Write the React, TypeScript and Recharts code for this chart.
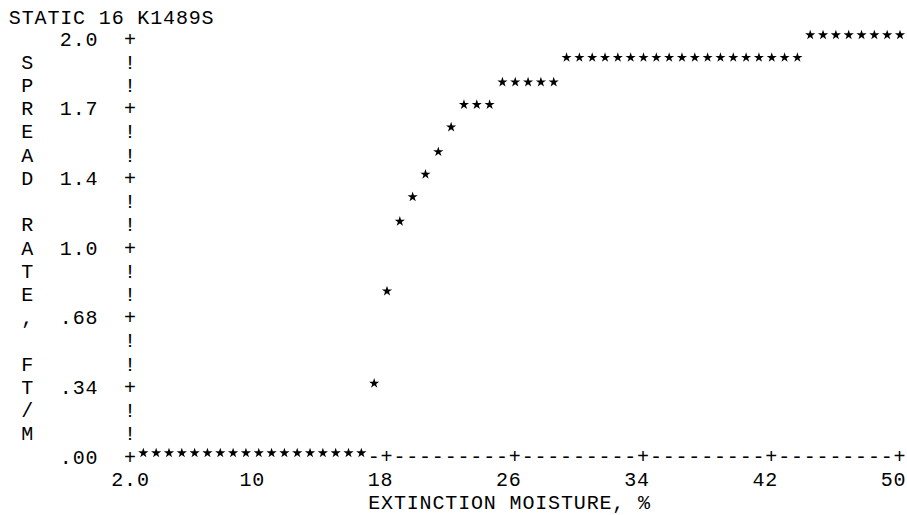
import React from 'react';
import { ScatterChart, Scatter, XAxis, YAxis, Symbols } from 'recharts';

// ---- text ----
const TITLE = 'STATIC 16 K1489S';
const X_TITLE = 'EXTINCTION MOISTURE, %';
const Y_TITLE = 'SPREAD RATE, FT/M';

// ---- axis ticks ----
const xTickValues = [2, 10, 18, 26, 34, 42, 50];
const xTickLabels = ['2.0', '10', '18', '26', '34', '42', '50'];
const yTickValues = [2.04, 1.7, 1.36, 1.02, 0.68, 0.34, 0];
const yTickLabels = ['2.0', '1.7', '1.4', '1.0', '.68', '.34', '.00'];

// ---- series: extinction moisture (%) and spread rate (ft/min) ----
const moisture = [
  2.8, 3.6, 4.4, 5.2, 6.0, 6.8, 7.6, 8.4, 9.2, 10.0, 10.8, 11.6, 12.4, 13.2, 14.0, 14.8, 15.6, 16.4,
  17.2, 18.0, 18.8, 19.6, 20.4, 21.2, 22.0,
  22.8, 23.6, 24.4,
  25.2, 26.0, 26.8, 27.6, 28.4,
  29.2, 30.0, 30.8, 31.6, 32.4, 33.2, 34.0, 34.8, 35.6, 36.4, 37.2, 38.0, 38.8, 39.6, 40.4, 41.2, 42.0, 42.8, 43.6,
  44.4, 45.2, 46.0, 46.8, 47.6, 48.4, 49.2, 50.0,
];
const spreadRate = [
  0, 0, 0, 0, 0, 0, 0, 0, 0, 0, 0, 0, 0, 0, 0, 0, 0, 0,
  0.34, 0.79, 1.13, 1.25, 1.36, 1.47, 1.59,
  1.7, 1.7, 1.7,
  1.81, 1.81, 1.81, 1.81, 1.81,
  1.93, 1.93, 1.93, 1.93, 1.93, 1.93, 1.93, 1.93, 1.93, 1.93, 1.93, 1.93, 1.93, 1.93, 1.93, 1.93, 1.93, 1.93, 1.93,
  2.04, 2.04, 2.04, 2.04, 2.04, 2.04, 2.04, 2.04,
];

const points = moisture.map((m, i) => ({ moisture: m, rate: spreadRate[i] }));

// printer grid: 10 character columns per x label interval, 3 lines per y label interval
const X_SUB = 10;
const Y_SUB = 3;
const xChars: number[] = [];
xTickValues.forEach((v, i) => {
  if (i === xTickValues.length - 1) { xChars.push(v); return; }
  const step = (xTickValues[i + 1] - v) / X_SUB;
  for (let k = 0; k < X_SUB; k++) xChars.push(+(v + k * step).toFixed(4));
});
const yRows: number[] = [];
yTickValues.forEach((v, i) => {
  if (i === yTickValues.length - 1) { yRows.push(v); return; }
  const step = (yTickValues[i + 1] - v) / Y_SUB;
  for (let k = 0; k < Y_SUB; k++) yRows.push(+(v + k * step).toFixed(4));
});

// ---- layout / style ----
const W = 907;
const H = 515;
const FONT = '"Liberation Mono", "DejaVu Sans Mono", monospace';
const CHAR_W = 12.85;
const AXIS_X = 130.5;
const TEXT_DY = 5;
const INK = '#000';
const STAR_AREA = 32;

const txt = {
  fontFamily: FONT,
  fontSize: 20,
  letterSpacing: '0.85px',
  fill: INK,
} as const;

const hasPointAt = (m: number, r: number) =>
  points.some((p) => Math.abs(p.moisture - m) < 1e-3 && Math.abs(p.rate - r) < 1e-3);

const StarMark = (props: any) => (
  <Symbols cx={props.cx} cy={props.cy} type="star" size={STAR_AREA} sizeType="area" fill={INK} />
);

const XTick = (props: any) => {
  const { x, payload } = props;
  const v = payload.value as number;
  const axisY = props.axisY as number;
  const idx = xTickValues.findIndex((t) => Math.abs(t - v) < 1e-6);
  const els: React.ReactNode[] = [];
  if (Math.abs(v - xTickValues[0]) > 1e-6 && !hasPointAt(v, 0)) {
    els.push(
      <text key="s" x={x} y={axisY} textAnchor="middle" dominantBaseline="central" style={txt}>
        {idx >= 0 ? '+' : '-'}
      </text>,
    );
  }
  if (idx >= 0) {
    const label = xTickLabels[idx];
    const len = label.length;
    const endChar = Math.floor((len - 1) / 2);
    const center = endChar - (len - 1) / 2;
    els.push(
      <text key="l" x={x + center * CHAR_W} y={480.5} textAnchor="middle" dominantBaseline="central" style={txt}>
        {label}
      </text>,
    );
  }
  return <g>{els}</g>;
};

const YTick = (props: any) => {
  const { y, payload } = props;
  const v = payload.value as number;
  const r = yRows.findIndex((t) => Math.abs(t - v) < 1e-6);
  const ty = y + TEXT_DY;
  const major = r % Y_SUB === 0;
  const els: React.ReactNode[] = [];
  els.push(
    <text key="s" x={AXIS_X} y={ty} textAnchor="middle" dominantBaseline="central" style={txt}>
      {major ? '+' : '!'}
    </text>,
  );
  if (major) {
    const label = yTickLabels[r / Y_SUB];
    const len = label.length;
    const cx = AXIS_X - (3 + (len - 1) / 2) * CHAR_W;
    els.push(
      <text key="l" x={cx} y={ty} textAnchor="middle" dominantBaseline="central" style={txt}>
        {label}
      </text>,
    );
  }
  if (r >= 1 && r <= Y_TITLE.length) {
    els.push(
      <text key="t" x={AXIS_X - 8 * CHAR_W} y={ty} textAnchor="middle" dominantBaseline="central" style={txt}>
        {Y_TITLE[r - 1]}
      </text>,
    );
  }
  return <g>{els}</g>;
};

const PLOT_TOP = 35;
const PLOT_BOTTOM = 453;

export default function App() {
  const axisY = PLOT_BOTTOM + TEXT_DY - 1;
  return (
    <div style={{ position: 'absolute', left: 0, top: 0, width: W, height: H, background: '#fff' }}>
      <ScatterChart
        width={W}
        height={H}
        margin={{ top: PLOT_TOP, right: W - 900, bottom: 0, left: 0 }}
      >
        <XAxis
          dataKey="moisture"
          type="number"
          domain={[2, 50]}
          ticks={xChars}
          interval={0}
          axisLine={false}
          tickLine={false}
          height={H - PLOT_BOTTOM}
          tick={(p: any) => <XTick {...p} axisY={axisY} />}
        />
        <YAxis
          dataKey="rate"
          type="number"
          domain={[0, 2.04]}
          ticks={yRows}
          interval={0}
          axisLine={false}
          tickLine={false}
          width={AXIS_X}
          tick={(p: any) => <YTick {...p} />}
        />
        <Scatter data={points} shape={(p: any) => <StarMark {...p} />} fill={INK} isAnimationActive={false} />
        <text x={AXIS_X - 9 * CHAR_W - 6} y={18.5} textAnchor="start" dominantBaseline="central" style={txt}>
          {TITLE}
        </text>
        <text
          x={AXIS_X + (19 + (X_TITLE.length - 1) / 2) * CHAR_W}
          y={503.5}
          textAnchor="middle"
          dominantBaseline="central"
          style={txt}
        >
          {X_TITLE}
        </text>
      </ScatterChart>
    </div>
  );
}
